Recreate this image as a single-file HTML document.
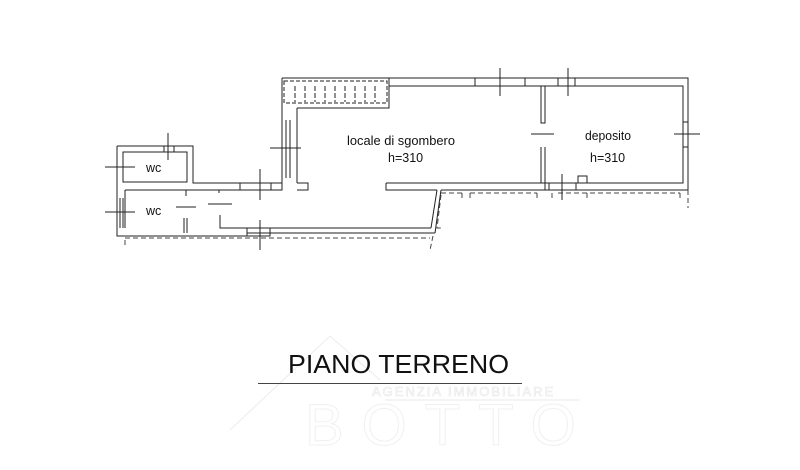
<!DOCTYPE html>
<html><head><meta charset="utf-8"><style>
html,body{margin:0;padding:0;background:#fff;width:800px;height:470px;overflow:hidden}
svg{display:block}
</style></head><body>
<svg width="800" height="470" viewBox="0 0 800 470" xmlns="http://www.w3.org/2000/svg">
<g fill="none" stroke="#222" stroke-width="1">
<path d="M282,78 H688 V190 H441"/>
<path d="M389,78 V86 H683 V183 H545"/>
<path d="M282,78 V108 M389,86 V108 H297"/>
<rect x="284" y="81" width="103" height="22" stroke-dasharray="4,2"/>
<path d="M295,86 v16 M305,86 v16 M315,86 v16 M325,86 v16 M335,86 v16 M345,86 v16 M355,86 v16 M365,86 v16 M375,86 v16" stroke-dasharray="5,2"/>
<path d="M282,108 V183 M297,108 V183 M286,120 V178 M290,120 V178"/>
<path d="M541,86 V123 H545 V86 M541,147 V183 H545 V147"/>
<path d="M531,134 H554"/>
<path d="M386,183 H541 M386,183 V190 H437"/>
<path d="M545,183 V190 H688"/>
<rect x="549" y="183" width="27" height="7"/>
<path d="M578,183 V176 H587 V183"/>
<rect x="475" y="78" width="50" height="8"/>
<rect x="558" y="78" width="17" height="8"/>
<rect x="683" y="122" width="5" height="25"/>
<path d="M437,190 L431,228 M441,190 L435,233"/>
<path d="M117,146 H193 V183 H282 M123,152 H187 V182 H123 Z"/>
<path d="M117,146 V236 H218 M125,190 V228"/>
<path d="M125,190 H271 M297,183 H308 V190 H297"/>
<rect x="271" y="183" width="11" height="7"/>
<path d="M240,183 V190"/>
<path d="M220,215 V228 H431 M218,236 H247 V233 H435"/>
<rect x="247" y="228" width="23" height="8"/>
<rect x="164" y="146" width="10" height="6"/>
<path d="M120,198 V228 M123,198 V228"/>
<path d="M184,218 V233 M187,218 V233 M186,190 V196 M219,190 V193"/>
<path d="M176,207 H196 M208,204 H232"/>
<g stroke-dasharray="5,3" stroke="#444">
<path d="M125,238 H430 M125,240 V248 M441,193 H462 M470,193 H537 M558,193 H680 M688,190 V208 M462,193 V200 M470,193 V200 M537,193 V200 M552,193 V200 M587,193 V200 M680,193 V200 M433,236 L430,250 M441,195 L437,228 H442"/>
</g>
<g stroke="#222">
<path d="M168,133 V160 M105,167 H135 M105,212 H135 M260,169 V200 M270,148 H301 M260,220 V250 M500,68 V96 M568,68 V96 M674,134 H700 M562,174 V200"/>
</g>
</g>
<g font-family="Liberation Sans, sans-serif" font-size="12.5" fill="#111">
<text x="347" y="145" textLength="108" lengthAdjust="spacingAndGlyphs">locale di sgombero</text>
<text x="388" y="162">h=310</text>
<text x="585" y="140" textLength="46" lengthAdjust="spacingAndGlyphs">deposito</text>
<text x="590" y="162">h=310</text>
<text x="146" y="172">wc</text>
<text x="146" y="215">wc</text>
</g>
<g fill="none" stroke="#eee" stroke-width="1.2">
<path d="M230,430 L330,336 L380,380"/>
<path d="M385,400 H580"/>
</g>
<text x="372" y="396" font-family="Liberation Sans, sans-serif" font-size="13" fill="none" stroke="#ececec" stroke-width="0.8" letter-spacing="2">AGENZIA IMMOBILIARE</text>
<text x="305" y="445" font-family="Liberation Sans, sans-serif" font-size="58" fill="none" stroke="#f0f0f0" stroke-width="1" letter-spacing="18">BOTTO</text>
<text x="288" y="373" font-family="Liberation Sans, sans-serif" font-size="26" fill="#111" textLength="221" lengthAdjust="spacingAndGlyphs">PIANO TERRENO</text>
<path d="M258,383.5 H522" stroke="#444" stroke-width="1"/>
</svg>
</body></html>
